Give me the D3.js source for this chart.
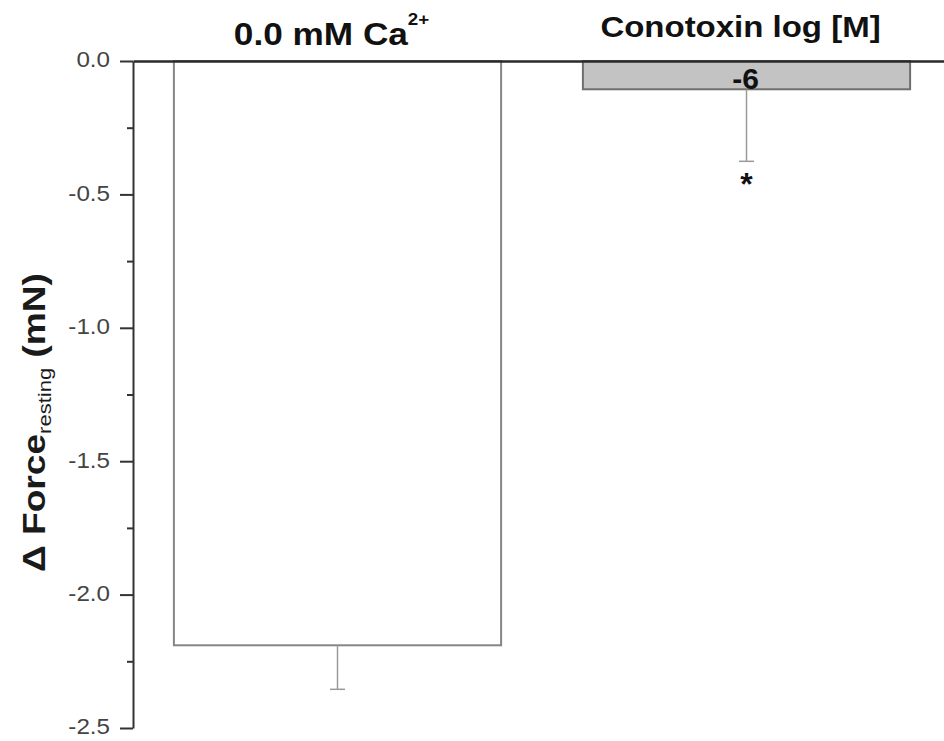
<!DOCTYPE html>
<html>
<head>
<meta charset="utf-8">
<script src="https://cdn.jsdelivr.net/npm/d3@7"></script>
<style>
  html, body { margin: 0; padding: 0; background: #fff; }
  svg { display: block; font-family: "Liberation Sans", Arial, sans-serif; }
</style>
</head>
<body>
<svg id="chart" width="944" height="741"></svg>
<script>
// ---- data ----
const categories = ["ctrl", "cono"];
const groupTitles = ["0.0 mM Ca", "Conotoxin log [M]"];
const titleSuperscripts = ["2+", ""];
const barLabels = ["", "-6"];
const values = [-2.19, -0.106];
const errors = [0.165, 0.27];
const significance = ["", "*"];
const yTickValues = [0, -0.5, -1.0, -1.5, -2.0, -2.5];
const yTickLabels = ["0.0", "-0.5", "-1.0", "-1.5", "-2.0", "-2.5"];
const yMinorTickValues = [-0.25, -0.75, -1.25, -1.75, -2.25];
const yLabelMain = "\u0394 Force";
const yLabelSub = "resting";
const yLabelUnit = " (mN)";

// ---- layout ----
const axisX = 133, y0px = 61, yEndPx = 728;
const svg = d3.select("#chart");

const x = d3.scaleBand().domain(categories).range([axisX, 951])
  .paddingInner(0.2).paddingOuter(0.1);
const y = d3.scaleLinear().domain([0, -2.5]).range([y0px, yEndPx]);

const barFills = ["#ffffff", "#c3c3c3"];
const barStrokes = ["#858585", "#6f6f6f"];

// bars
svg.append("g").selectAll("rect").data(categories).join("rect")
  .attr("x", d => x(d))
  .attr("width", x.bandwidth())
  .attr("y", () => y(0))
  .attr("height", (d, i) => y(values[i]) - y(0))
  .attr("fill", (d, i) => barFills[i])
  .attr("stroke", (d, i) => barStrokes[i])
  .attr("stroke-width", 2);

// error bars (away from zero)
const capW = 15;
const eg = svg.append("g").attr("stroke", "#9a9a9a").attr("stroke-width", 1.5).attr("fill", "none");
categories.forEach((c, i) => {
  const cx = x(c) + x.bandwidth() / 2;
  const yv = y(values[i]);
  const ye = y(values[i] - errors[i]);
  eg.append("line").attr("x1", cx).attr("x2", cx).attr("y1", yv).attr("y2", ye);
  eg.append("line").attr("x1", cx - capW / 2).attr("x2", cx + capW / 2).attr("y1", ye).attr("y2", ye);
});

// bar labels inside bars
svg.append("g").selectAll("text").data(categories).join("text")
  .attr("transform", (d, i) => `translate(${x(d) + x.bandwidth() / 2 - 1},${y(values[i]) - 0.5})`)
  .attr("text-anchor", "middle")
  .attr("font-size", 30)
  .attr("font-weight", "bold")
  .attr("fill", "#111")
  .text((d, i) => barLabels[i]);

// significance stars
svg.append("g").selectAll("text").data(categories).join("text")
  .attr("x", d => x(d) + x.bandwidth() / 2)
  .attr("y", (d, i) => y(values[i] - errors[i]) + 34)
  .attr("text-anchor", "middle")
  .attr("font-size", 32)
  .attr("font-weight", "bold")
  .attr("fill", "#111")
  .text((d, i) => significance[i]);

// group titles
const titleBaselines = [45, 37];
const titleSizes = [32, 30];
categories.forEach((c, i) => {
  const cx = x(c) + x.bandwidth() / 2 - 6;
  const t = svg.append("text")
    .attr("transform", `translate(${cx},${titleBaselines[i]}) scale(1.1,1)`)
    .attr("text-anchor", "middle")
    .attr("font-size", titleSizes[i])
    .attr("font-weight", "bold")
    .attr("fill", "#111");
  t.append("tspan").text(groupTitles[i]);
  if (titleSuperscripts[i]) {
    t.append("tspan").attr("font-size", 17).attr("dy", -20).text(titleSuperscripts[i]);
  }
});

// x axis (top line)
const xAxis = d3.axisTop(x).tickSize(0).tickFormat("");
const gx = svg.append("g").attr("transform", `translate(0,${y(0)})`).call(xAxis);
gx.select(".domain").attr("stroke", "#2a2a2a").attr("stroke-width", 2.5);

// y axis
const yAxis = d3.axisLeft(y).tickValues(yTickValues).tickSize(13).tickSizeOuter(0)
  .tickFormat((d, i) => yTickLabels[i]);
const gy = svg.append("g").attr("transform", `translate(${axisX},0)`).call(yAxis);
gy.select(".domain").attr("stroke", "#333").attr("stroke-width", 2);
gy.selectAll(".tick line").attr("stroke", "#333").attr("stroke-width", 2);
gy.selectAll(".tick text")
  .attr("font-family", "\"Liberation Sans\", Arial, sans-serif")
  .attr("font-size", 22)
  .attr("fill", "#444")
  .attr("transform", "scale(1.1,1)")
  .attr("x", -23 / 1.1)
  .attr("dy", "0.27em");

// minor ticks
const yMinor = d3.axisLeft(y).tickValues(yMinorTickValues).tickSize(6).tickFormat("");
const gm = svg.append("g").attr("transform", `translate(${axisX},0)`).call(yMinor);
gm.select(".domain").remove();
gm.selectAll(".tick line").attr("stroke", "#333").attr("stroke-width", 2);

// y axis label
const yl = svg.append("text")
  .attr("transform", `translate(45,${(y(0) + y(-2.5)) / 2 + 28}) rotate(-90) scale(1.16,1)`)
  .attr("text-anchor", "middle")
  .attr("font-size", 32)
  .attr("font-weight", "bold")
  .attr("fill", "#1a1a1a");
yl.append("tspan").text(yLabelMain);
yl.append("tspan").attr("font-size", 19).attr("font-weight", "normal").attr("dy", 6).text(yLabelSub);
yl.append("tspan").attr("dy", -6).text(yLabelUnit);
</script>
</body>
</html>
